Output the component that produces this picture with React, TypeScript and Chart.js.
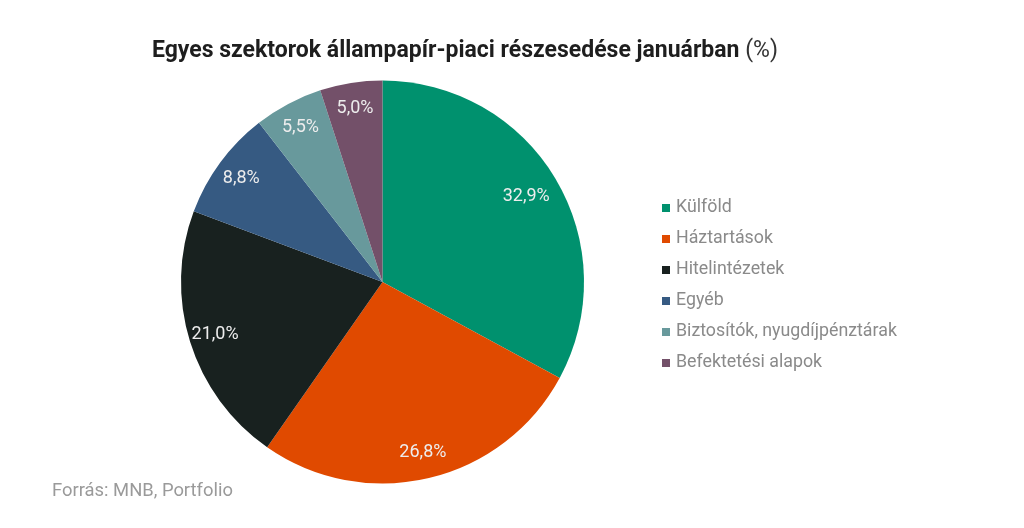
import React, { useEffect, useRef } from "react";
import { Chart, registerables } from "chart.js";

Chart.register(...registerables);

const categories = [
  "Külföld",
  "Háztartások",
  "Hitelintézetek",
  "Egyéb",
  "Biztosítók, nyugdíjpénztárak",
  "Befektetési alapok",
];
const shares = [32.9, 26.8, 21.0, 8.8, 5.5, 5.0];
const colors = ["#00916e", "#e04a00", "#18211f", "#365a82", "#68999c", "#735069"];
const titleMain = "Egyes szektorok állampapír-piaci részesedése januárban";
const titleUnit = "(%)";
const sourceText = "Forrás: MNB, Portfolio";

const fmt = (v: number) => v.toFixed(1).replace(".", ",") + "%";

const decorPlugin = {
  id: "decor",
  afterDatasetsDraw(chart: any) {
    const ctx = chart.ctx as CanvasRenderingContext2D;
    const meta = chart.getDatasetMeta(0);
    ctx.save();
    ctx.fillStyle = "#ededed";
    ctx.font = "18px Roboto";
    ctx.textAlign = "center";
    ctx.textBaseline = "middle";
    meta.data.forEach((arc: any, i: number) => {
      const p = arc.getProps(["x", "y", "startAngle", "endAngle", "outerRadius"], true);
      const mid = (p.startAngle + p.endAngle) / 2;
      const r = p.outerRadius * (i === 0 ? 0.83 : 0.87);
      ctx.fillText(fmt(shares[i]), p.x + Math.cos(mid) * r, p.y + Math.sin(mid) * r);
    });
    ctx.restore();
  },
  afterDraw(chart: any) {
    const ctx = chart.ctx as CanvasRenderingContext2D;
    ctx.save();
    // title
    ctx.textBaseline = "middle";
    ctx.textAlign = "left";
    ctx.fillStyle = "#1e1e1e";
    ctx.translate(152, 51);
    ctx.font = "bold 23px Roboto";
    ctx.fillText(titleMain + " ", 0, 0);
    const w = ctx.measureText(titleMain + " ").width;
    ctx.font = "23px Roboto";
    ctx.fillStyle = "#333333";
    ctx.fillText(titleUnit, w, 0);
    ctx.restore();

    // legend
    ctx.save();
    ctx.font = "17.8px Roboto";
    ctx.textBaseline = "middle";
    ctx.textAlign = "left";
    categories.forEach((c, i) => {
      const y = 208 + i * 31;
      ctx.fillStyle = colors[i];
      ctx.fillRect(662, y - 4, 8, 8);
      ctx.fillStyle = "#8a8a8a";
      ctx.fillText(c, 676, y);
    });
    // source
    ctx.font = "18.4px Roboto";
    ctx.fillStyle = "#9a9a9a";
    ctx.fillText(sourceText, 52, 491);
    ctx.restore();
  },
};

export default function App() {
  const ref = useRef<HTMLCanvasElement>(null);
  useEffect(() => {
    document.body.style.margin = "0";
    const chart = new Chart(ref.current!, {
      type: "pie",
      data: {
        labels: categories,
        datasets: [
          {
            data: shares,
            backgroundColor: colors,
            borderWidth: 0,
          },
        ],
      },
      options: {
        animation: false,
        responsive: false,
        maintainAspectRatio: false,
        layout: { padding: { left: 181, right: 440, top: 80, bottom: 44 } },
        plugins: {
          legend: { display: false },
          tooltip: { enabled: false },
          title: { display: false },
        },
      },
      plugins: [decorPlugin],
    });
    return () => chart.destroy();
  }, []);
  return (
    <div style={{ position: "fixed", left: 0, top: 0, width: 1024, height: 528, background: "#fff" }}>
      <canvas ref={ref} width={1024} height={528} style={{ width: 1024, height: 528 }} />
    </div>
  );
}
